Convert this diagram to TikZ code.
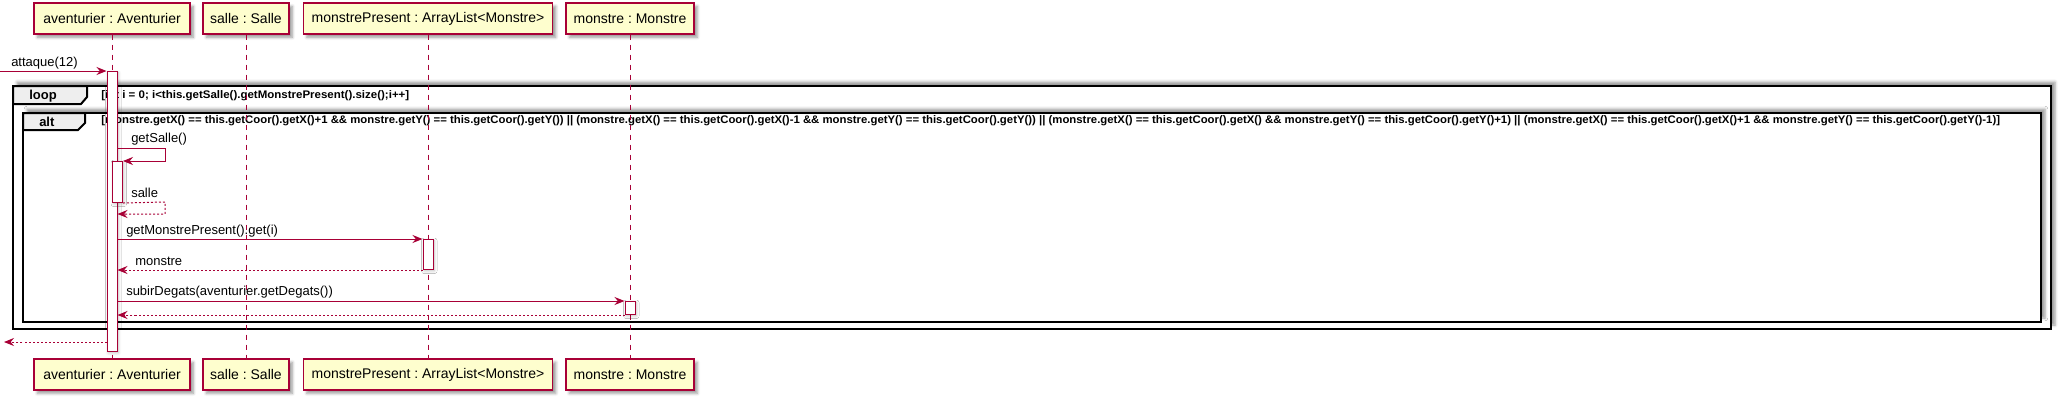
\documentclass[tikz,border=0pt]{standalone}
\usepackage{graphicx}
\usepackage{fontspec}
\setmainfont{Liberation Sans}
\usetikzlibrary{arrows.meta}
\usetikzlibrary{shadows.blur}
\usetikzlibrary{positioning}

\definecolor{umlred}{RGB}{168,0,54}
\definecolor{umlbox}{RGB}{254,254,206}
\definecolor{umltab}{RGB}{238,238,238}

\newcommand{\condfit}[2]{\resizebox{#1}{\height}{#2}}
\frenchspacing

\begin{document}
\begin{tikzpicture}[x=0.75pt,y=0.75pt,yscale=-1,xscale=1,
  part/.style={draw=umlred,fill=umlbox,line width=1.1pt,inner sep=0pt,minimum height=23.25pt,
    font=\fontsize{10.5pt}{12pt}\selectfont,blur shadow={shadow xshift=2.5pt,shadow yshift=-2.5pt}},
  act/.style={draw=umlred,fill=white,line width=0.75pt,inner sep=0pt,minimum width=7.5pt,anchor=north,
    blur shadow={shadow xshift=1pt,shadow yshift=-1pt,shadow opacity=25}},
  lifeline/.style={umlred,line width=0.75pt,dash pattern=on 3.75pt off 3.75pt},
  msg/.style={umlred,line width=0.75pt,-{Stealth[length=7.5pt,width=6pt,inset=2.5pt]}},
  ret/.style={msg,dash pattern=on 1.5pt off 1.5pt},
  lbl/.style={anchor=west,inner sep=0pt,font=\fontsize{9.75pt}{11pt}\selectfont},
  frame/.style={draw=black,fill=white,line width=1.5pt,blur shadow={shadow xshift=3pt,shadow yshift=3pt}},
  tab/.style={draw=black,fill=umltab,line width=1.5pt},
  tablbl/.style={anchor=west,inner sep=0pt,font=\bfseries\fontsize{9.75pt}{11pt}\selectfont},
  cond/.style={anchor=west,inner sep=0pt,font=\bfseries\fontsize{8.25pt}{10pt}\selectfont}
]
\useasboundingbox (0,0) rectangle (2060,401);

%Frame: loop
\draw [frame] (13,86) rectangle (2051,329);
\draw [tab] (13,86) -- (87,86) -- (87,97) -- (81,104) -- (13,104) -- cycle;
\node [tablbl] (looplbl) at (29,96) {loop};
\node [cond] (loopcond) at (101,96) {\condfit{231pt}{[int i = 0; i<this.getSalle().getMonstrePresent().size();i++]}};

%Frame: alt
\draw [frame] (23,113) rectangle (2041,322);
\draw [tab] (23,113) -- (85,113) -- (85,123) -- (78,130) -- (23,130) -- cycle;
\node [tablbl] (altlbl) at (39,122) {alt};
\node [cond] (altcond) at (101,121) {\condfit{1424pt}{[monstre.getX() == this.getCoor().getX()+1 \&\& monstre.getY() == this.getCoor().getY()) || (monstre.getX() == this.getCoor().getX()-1 \&\& monstre.getY() == this.getCoor().getY()) || (monstre.getX() == this.getCoor().getX() \&\& monstre.getY() == this.getCoor().getY()+1) || (monstre.getX() == this.getCoor().getX()+1 \&\& monstre.getY() == this.getCoor().getY()-1)]}};

%Participants (top)
\node [part,minimum width=117pt] (av) at (112,18.5) {aventurier : Aventurier};
\node [part,minimum width=64.5pt] (sa) at (246,18.5) {salle : Salle};
\node [part,minimum width=186.75pt] (mp) at (428,18.5) {monstrePresent : ArrayList<Monstre>};
\node [part,minimum width=96pt] (mo) at (630,18.5) {monstre : Monstre};
%Participants (bottom)
\node [part,minimum width=117pt] (avb) at (112,374.5) {aventurier : Aventurier};
\node [part,minimum width=64.5pt] (sab) at (246,374.5) {salle : Salle};
\node [part,minimum width=186.75pt] (mpb) at (428,374.5) {monstrePresent : ArrayList<Monstre>};
\node [part,minimum width=96pt] (mob) at (630,374.5) {monstre : Monstre};

%Lifelines
\draw [lifeline] (av.south) -- (avb.north);
\draw [lifeline] (sa.south) -- (sab.north);
\draw [lifeline] (mp.south) -- (mpb.north);
\draw [lifeline] (mo.south) -- (mob.north);

%Activations
\node [act,minimum height=210pt] (a1) at (112,71) {};
\node [act,minimum height=30.75pt] (a2) at (117.5,161) {};
\node [act,minimum height=22.5pt] (a3) at (428,239) {};
\node [act,minimum height=9.75pt] (a4) at (630,301) {};

%Messages
\coordinate (in) at (0,71);
\coordinate (out) at (4,342);
\draw [msg] (in) -- (a1.north west);
\draw [msg] (a1.east |- 0,148) -- (165,148) -- (165,161) -- (a2.north east);
\draw [ret] (a2.south east) -- (165,202) -- (165,214) -- (a1.east |- 0,214);
\draw [msg] (a1.east |- a3.north) -- (a3.north west);
\draw [ret] (a3.south west) -- (a1.east |- a3.south);
\draw [msg] (a1.east |- a4.north) -- (a4.north west);
\draw [ret] (a4.south west) -- (a1.east |- a4.south);
\draw [ret] (a1.west |- out) -- (out);

% Text Node
\node [lbl] (m1) at (11,63) {attaque(12)};
\node [lbl] (m2) at (131,139) {getSalle()};
\node [lbl] (m3) at (131,193) {salle};
\node [lbl] (m4) at (126,231) {getMonstrePresent().get(i)};
\node [lbl] (m5) at (135,261) {monstre};
\node [lbl] (m6) at (126,292) {subirDegats(aventurier.getDegats())};

\end{tikzpicture}
\end{document}
